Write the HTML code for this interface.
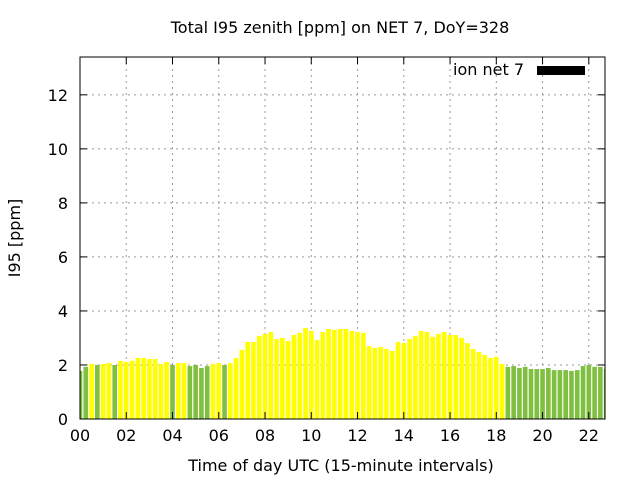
<!DOCTYPE html>
<html><head><meta charset="utf-8"><style>
body{margin:0;background:#fff}
svg text{font-family:"DejaVu Sans","Liberation Sans",sans-serif;font-size:16px;fill:#000}
</style></head><body>
<svg id="chart" width="640" height="480" xmlns="http://www.w3.org/2000/svg">
<rect width="640" height="480" fill="#fff"/>
<g id="grid"></g><g id="bars"></g><g id="axes"></g>
</svg>
<script>
const values=[1.78,1.93,2.04,2.0,2.04,2.07,2.0,2.15,2.11,2.15,2.26,2.26,2.22,2.22,2.04,2.11,2.0,2.07,2.07,1.96,2.0,1.89,1.96,2.04,2.07,2.0,2.07,2.26,2.56,2.85,2.85,3.07,3.15,3.22,2.96,3.0,2.89,3.11,3.19,3.37,3.26,2.93,3.22,3.33,3.30,3.33,3.33,3.26,3.22,3.19,2.70,2.63,2.67,2.59,2.52,2.85,2.81,2.96,3.07,3.26,3.22,3.04,3.15,3.22,3.11,3.11,3.0,2.81,2.59,2.48,2.37,2.26,2.30,2.04,1.93,1.96,1.89,1.93,1.85,1.85,1.85,1.89,1.81,1.81,1.81,1.78,1.81,1.96,2.0,1.93,1.93,1.85];
const yTicks=[0,2,4,6,8,10,12];
const xTicks=["00","02","04","06","08","10","12","14","16","18","20","22"];
const threshold=2.02;
const L=80,R=605,T=57,B=419,yMax=13.4,xMax=22.7;
const NS="http://www.w3.org/2000/svg";
const xs=h=>L+h*(R-L)/xMax, ys=v=>B-v*(B-T)/yMax;
function mk(t,a,p,txt){const e=document.createElementNS(NS,t);for(const k in a)e.setAttribute(k,a[k]);if(txt!=null)e.textContent=txt;p.appendChild(e);return e;}
const grid=document.getElementById('grid'),bars=document.getElementById('bars'),axes=document.getElementById('axes');
yTicks.forEach(v=>{const y=ys(v);
 if(v>0){const g=mk('line',{x1:L,x2:R,y1:y,y2:y,stroke:'#999','stroke-dasharray':'2,4'},grid);
 
 }
 mk('line',{x1:L,x2:L+7,y1:y,y2:y,stroke:'#000'},axes);
 mk('line',{x1:R,x2:R-7,y1:y,y2:y,stroke:'#000'},axes);
 const t=mk('text',{x:L-12,y:y+6,'text-anchor':'end'},axes,String(v));
 
 });
xTicks.forEach((s,i)=>{const x=xs(i*2);
 if(i>0){const g=mk('line',{x1:x,x2:x,y1:T,y2:B,stroke:'#999','stroke-dasharray':'2,4'},grid);
 
 }
 mk('line',{x1:x,x2:x,y1:B,y2:B-7,stroke:'#000'},axes);
 mk('line',{x1:x,x2:x,y1:T,y2:T+7,stroke:'#000'},axes);
 const t=mk('text',{x:x,y:B+22,'text-anchor':'middle'},axes,s);
 
 });
const w=(R-L)/xMax/4;
values.forEach((v,i)=>{const cx=xs(i/4);let x0=cx-w*0.4,x1=cx+w*0.4;x0=Math.max(x0,L);x1=Math.min(x1,R);if(x1<=x0)return;
 const r=mk('rect',{x:x0,y:ys(v),width:x1-x0,height:B-ys(v),fill:v>threshold?'#ffff00':'#80c040'},bars);
 
 });
const f=mk('rect',{x:L,y:T,width:R-L,height:B-T,fill:'none',stroke:'#000','stroke-width':1},axes);


const tl=mk('text',{x:340,y:33,'text-anchor':'middle'},axes,'Total I95 zenith [ppm] on NET 7, DoY=328');


const xl=mk('text',{x:341,y:471,'text-anchor':'middle'},axes,'Time of day UTC (15-minute intervals)');


const yl=mk('text',{x:20,y:238,'text-anchor':'middle',transform:'rotate(-90 20 238)'},axes,'I95 [ppm]');


const lt=mk('text',{x:524,y:75,'text-anchor':'end'},axes,'ion net 7');


const ls=mk('rect',{x:537,y:66,width:48,height:9,fill:'#000'},axes);


</script>
</body></html>
